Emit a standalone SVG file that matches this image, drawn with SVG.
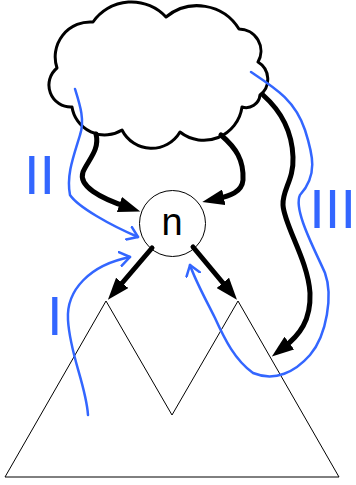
<svg xmlns="http://www.w3.org/2000/svg" width="356" height="485" viewBox="0 0 356 485">
<style>
.thin{fill:none;stroke:#000;stroke-width:1}
.cloud{fill:#fff;stroke:#000;stroke-width:3;stroke-linejoin:round}
.arr{fill:none;stroke:#000;stroke-width:5;stroke-linecap:round;marker-end:url(#ah)}
.blue{fill:none;stroke:#3366ff;stroke-width:2.5;stroke-linecap:round}
.bluea{marker-end:url(#oh)}
.lbl{font-family:"Liberation Sans",Arial,sans-serif;font-size:56px;fill:#3366ff}
</style>
<defs>
<marker id="ah" viewBox="0 0 22 16" refX="8" refY="8" markerWidth="22" markerHeight="16" markerUnits="userSpaceOnUse" orient="auto">
<path d="M0,0 L22,8 L0,16 z" fill="#000"/>
</marker>
<marker id="oh" viewBox="-1 -1 13 16" refX="10" refY="7" markerWidth="13" markerHeight="16" markerUnits="userSpaceOnUse" orient="auto">
<path d="M0,0 L10,7 L0,14" fill="none" stroke="#3366ff" stroke-width="2.5" stroke-linecap="round" stroke-linejoin="round"/>
</marker>
</defs>
<g id="tree">
<polygon class="thin" points="5,477 106,301 172,415 238,301 339,477"/>
</g>
<g id="cloud">
<path class="cloud" d="M93,22 A47,47 0 0 1 166,17 A49,49 0 0 1 239,29 A22,22 0 0 1 258,62 A20,20 0 0 1 260,95 A14,14 0 0 1 242,107 A38.5,38.5 0 0 1 180,132 A33,33 0 0 1 122,130 A33,33 0 0 1 72,107 A22,22 0 0 1 57,68 A35,35 0 0 1 93,22 Z"/>
</g>
<g id="node-n">
<circle cx="172.5" cy="223.5" r="33" fill="#fff" stroke="#000" stroke-width="1"/>
<text x="172" y="235" font-family="Liberation Sans, Arial, sans-serif" font-size="38" text-anchor="middle">n</text>
</g>
<g id="connectors">
<path class="arr" d="M96,134 C100,150 88,160 83,172 C78,186 100,198 127,207"/>
<path class="arr" d="M221,135 C236,148 244,160 243,180 C242,192 230,196 216,199"/>
<path class="arr" d="M152,248 L117,289"/>
<path class="arr" d="M193,247 L228,289"/>
<path class="arr" d="M263,95 C280,110 292,130 293,157 C294,180 282,190 283,205 C284,225 308,260 310,293 C311,320 300,335 283,348"/>
<path class="blue bluea" d="M88,415 C86,385 70,355 68,320 C66,290 90,265 130,257"/>
<path class="blue bluea" d="M75,89 C80,105 85,120 80,135 C74,155 66,175 70,195 C78,207 110,225 138,237"/>
<path class="blue bluea" d="M251,72 C275,88 295,100 305,130 C313,155 318,175 300,195 C293,210 315,250 325,273 C333,295 327,335 310,355 C295,372 275,382 253,373 C235,360 225,340 215,318 C205,298 195,280 190,265"/>
</g>
<g id="labels">
<text class="lbl" x="47" y="335">I</text>
<text class="lbl" x="24" y="194">II</text>
<text class="lbl" x="356" y="228" text-anchor="end">III</text>
</g>
</svg>
